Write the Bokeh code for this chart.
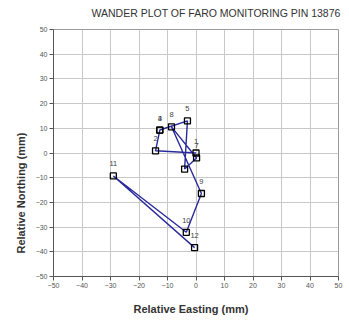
from bokeh.plotting import figure
from bokeh.models import ColumnDataSource, FixedTicker, Range1d, Title
from bokeh.core.properties import value
from bokeh.embed import file_html
from bokeh.resources import INLINE

# Data
point_ids = ["1", "2", "3", "4", "5", "", "7", "8", "9", "10", "11", "12"]
easting = [0.0, -14.2, -12.7, -12.7, -3.0, -4.0, 0.2, -8.6, 1.9, -3.4, -29.0, -0.5]
northing = [0.0, 0.9, 9.3, 9.3, 13.0, -6.5, -2.0, 10.6, -16.4, -32.1, -9.3, -38.3]
ticks = [-50, -40, -30, -20, -10, 0, 10, 20, 30, 40, 50]

FONT = "Liberation Sans"

src = ColumnDataSource(dict(x=easting, y=northing, t=point_ids))

p = figure(width=349, height=326, output_backend="svg", toolbar_location=None,
           x_range=Range1d(-50, 50), y_range=Range1d(-50, 50),
           min_border_left=53, min_border_right=11, min_border_top=29,
           min_border_bottom=50)
p.background_fill_color = "white"
p.border_fill_color = "white"
p.outline_line_color = "#9a9a9a"
p.outline_line_width = 1

for ax in (p.xaxis[0], p.yaxis[0]):
    ax.ticker = FixedTicker(ticks=ticks)
    ax.minor_tick_line_color = None
    ax.major_tick_in = 0
    ax.major_tick_out = 4
    ax.axis_line_color = "#555555"
    ax.major_tick_line_color = "#555555"
    ax.major_label_text_font = FONT
    ax.major_label_text_font_size = "7px"
    ax.major_label_text_color = "#555555"
    ax.major_label_standoff = 2

p.xgrid.ticker = FixedTicker(ticks=ticks)
p.ygrid.ticker = FixedTicker(ticks=ticks)
p.xgrid.grid_line_color = "#c8c8c8"
p.ygrid.grid_line_color = "#c8c8c8"

p.line("x", "y", source=src, line_color="#2a2a9c", line_width=1.4)
p.scatter("x", "y", source=src, marker="square", size=6, fill_color="white",
          fill_alpha=0.0, line_color="black", line_width=1.3)
p.text("x", "y", text="t", source=src, text_font=value(FONT), text_font_size="7.5px",
       text_color="#444444", text_align="center", text_baseline="middle",
       y_offset=-12)

# spacer between the frame and the main title
p.add_layout(Title(text=" ", standoff=4, text_font_size="1px"), "above")

p.title.text = "WANDER PLOT OF FARO MONITORING  PIN 13876"
p.title.align = "right"
p.title.offset = -5
p.title.standoff = 8
p.title.text_font = FONT
p.title.text_font_size = "10.5px"
p.title.text_font_style = "normal"
p.title.text_color = "#333333"

xlab = Title(text="Relative Easting (mm)", align="left", offset=80,
             text_font=FONT, text_font_size="11px", text_font_style="bold",
             text_color="#333333", standoff=20)
p.add_layout(xlab, "below")

ylab = Title(text="Relative Northing (mm)", align="left", offset=23,
             text_font=FONT, text_font_size="11px", text_font_style="bold",
             text_color="#333333", standoff=12)
p.add_layout(ylab, "left")

open("out.html", "w").write(file_html(p, INLINE))
